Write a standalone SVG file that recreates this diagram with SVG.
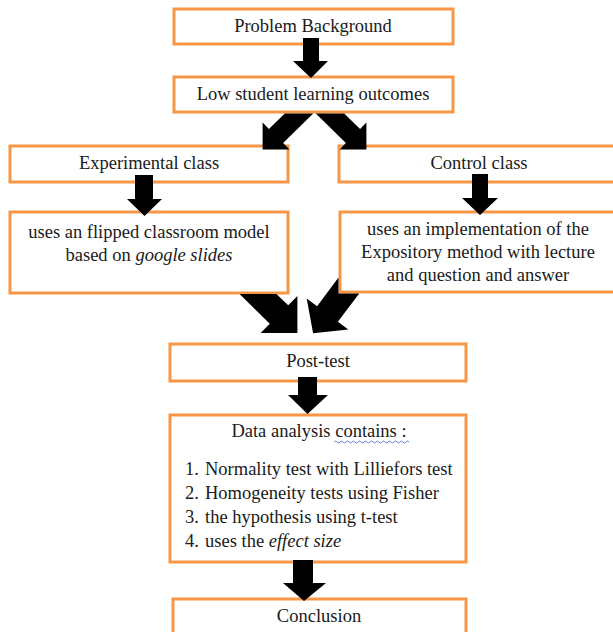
<svg xmlns="http://www.w3.org/2000/svg" width="613" height="632" viewBox="0 0 613 632">
<style>
.box{fill:#ffffff;stroke:#F79646;stroke-width:3}
.t{font-family:"Liberation Serif","Times New Roman",serif;font-size:18.5px;fill:#1a1a1a}
.c{text-anchor:middle}
.i{font-style:italic}
.arr{fill:#000000}
</style>
<rect width="613" height="632" fill="#ffffff"/>
<g id="nodes">
<g id="problem"><rect class="box" x="174" y="9" width="279" height="35"/><text class="t c" x="313" y="32">Problem Background</text></g>
<g id="low"><rect class="box" x="174" y="77" width="279" height="35"/><text class="t c" x="313" y="100">Low student learning outcomes</text></g>
<g id="experimental"><rect class="box" x="10" y="146" width="278" height="36"/><text class="t c" x="149" y="169">Experimental class</text></g>
<g id="flipped"><rect class="box" x="10" y="212" width="278" height="81"/><text class="t c" x="149" y="238">uses an flipped classroom model</text><text class="t c" x="149" y="261">based on <tspan class="i">google slides</tspan></text></g>
<g id="control"><rect class="box" x="339" y="146" width="290" height="36"/><text class="t c" x="479" y="169">Control class</text></g>
<g id="expository"><rect class="box" x="340" y="212" width="290" height="80"/><text class="t c" x="478" y="235">uses an implementation of the</text><text class="t c" x="478" y="258">Expository method with lecture</text><text class="t c" x="478" y="281">and question and answer</text></g>
<g id="posttest"><rect class="box" x="170" y="344" width="296" height="37"/><text class="t c" x="318" y="367">Post-test</text></g>
<g id="analysis"><rect class="box" x="170" y="415" width="296" height="147"/><text class="t c" x="319" y="437">Data analysis contains :</text>
<path d="M334 442 q1.5 -2 3 0 t3 0 t3 0 t3 0 t3 0 t3 0 t3 0 t3 0 t3 0 t3 0 t3 0 t3 0 t3 0 t3 0 t3 0 t3 0 t3 0 t3 0 t3 0 t3 0 t3 0 t3 0 t3 0 t3 0 t3 0" fill="none" stroke="#6b7fd6" stroke-width="1"/>
<text class="t" x="185" y="475">1.</text><text class="t" x="205" y="475">Normality test with Lilliefors test</text>
<text class="t" x="185" y="499">2.</text><text class="t" x="205" y="499">Homogeneity tests using Fisher</text>
<text class="t" x="185" y="523">3.</text><text class="t" x="205" y="523">the hypothesis using t-test</text>
<text class="t" x="185" y="547">4.</text><text class="t" x="205" y="547">uses the <tspan class="i">effect size</tspan></text></g>
<g id="conclusion"><rect class="box" x="173" y="599" width="293" height="45"/><text class="t c" x="319" y="622">Conclusion</text></g>
</g>
<g id="connectors">
<polygon class="arr" points="303,38 319,38 319,61 328,61 311,78 293,61 303,61"/>
<polygon class="arr" points="284.8,113.5 313.2,113.5 283.1,143.1 289.4,149.4 262.6,149.4 262.6,122.6 268.9,128.9"/>
<polygon class="arr" points="344.2,113.5 315.8,113.5 345.9,143.1 339.6,149.4 366.4,149.4 366.4,122.6 360.1,128.9"/>
<polygon class="arr" points="135,175 153,175 153,199 162,199 144.5,216 127,199 135,199"/>
<polygon class="arr" points="472,174 488,174 488,198 498,198 480,215 462,198 472,198"/>
<polygon class="arr" points="239.6,294 276.4,294 288.2,305.3 297.4,296.1 297.4,332.9 260.6,332.9 269.8,323.7"/>
<polygon class="arr" points="338.5,277.6 338.5,293.5 359.2,293.5 337.9,321.8 348.3,329.6 313.1,333.2 306.7,298.4 317.1,306.2"/>
<polygon class="arr" points="298,377 317,377 317,395 328,395 307.5,414 288,395 298,395"/>
<polygon class="arr" points="293,560 313,560 313,583 326,583 304,601 283,583 293,583"/>
</g>
</svg>
